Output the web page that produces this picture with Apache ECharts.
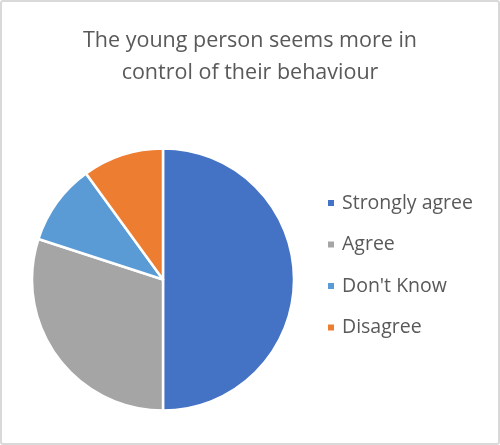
<!DOCTYPE html>
<html>
<head>
<meta charset="utf-8">
<script src="https://cdn.jsdelivr.net/npm/echarts@6/dist/echarts.min.js"></script>
<style>
  html, body { margin: 0; padding: 0; background: #fff; }
  #main {
    width: 496px;
    height: 441px;
    border: 2px solid #d9d9d9;
    border-radius: 3px;
  }
</style>
</head>
<body>
<div id="main"></div>
<script>
// chart data
const titleText = 'The young person seems more in\ncontrol of their behaviour'
const categories = ['Strongly agree', 'Agree', "Don't Know", 'Disagree']
const values = [50, 30, 10, 10]
const colors = ['#4472c4', '#a5a5a5', '#5b9bd5', '#ed7d31']

const chart = echarts.init(document.getElementById('main'))
chart.setOption({
  animation: false,
  title: {
    text: titleText,
    left: 'center',
    top: 18,
    textStyle: {
      color: '#595959',
      fontFamily: 'Open Sans',
      fontWeight: 'normal',
      fontSize: 21.5,
      lineHeight: 32
    }
  },
  legend: {
    orient: 'vertical',
    left: 319,
    top: 186,
    itemWidth: 8,
    itemHeight: 8,
    itemGap: 21.5,
    icon: 'rect',
    textStyle: {
      color: '#595959',
      fontFamily: 'Open Sans',
      fontSize: 19.5,
      lineHeight: 20,
      padding: [0, 0, 0, 2]
    },
    data: categories
  },
  series: [
    {
      type: 'pie',
      center: [161, 277.5],
      radius: 131,
      startAngle: 90,
      clockwise: true,
      label: { show: false },
      labelLine: { show: false },
      itemStyle: {
        borderColor: '#fff',
        borderWidth: 2.5
      },
      data: categories.map((name, i) => ({
        name: name,
        value: values[i],
        itemStyle: { color: colors[i] }
      }))
    }
  ]
})
</script>
</body>
</html>
